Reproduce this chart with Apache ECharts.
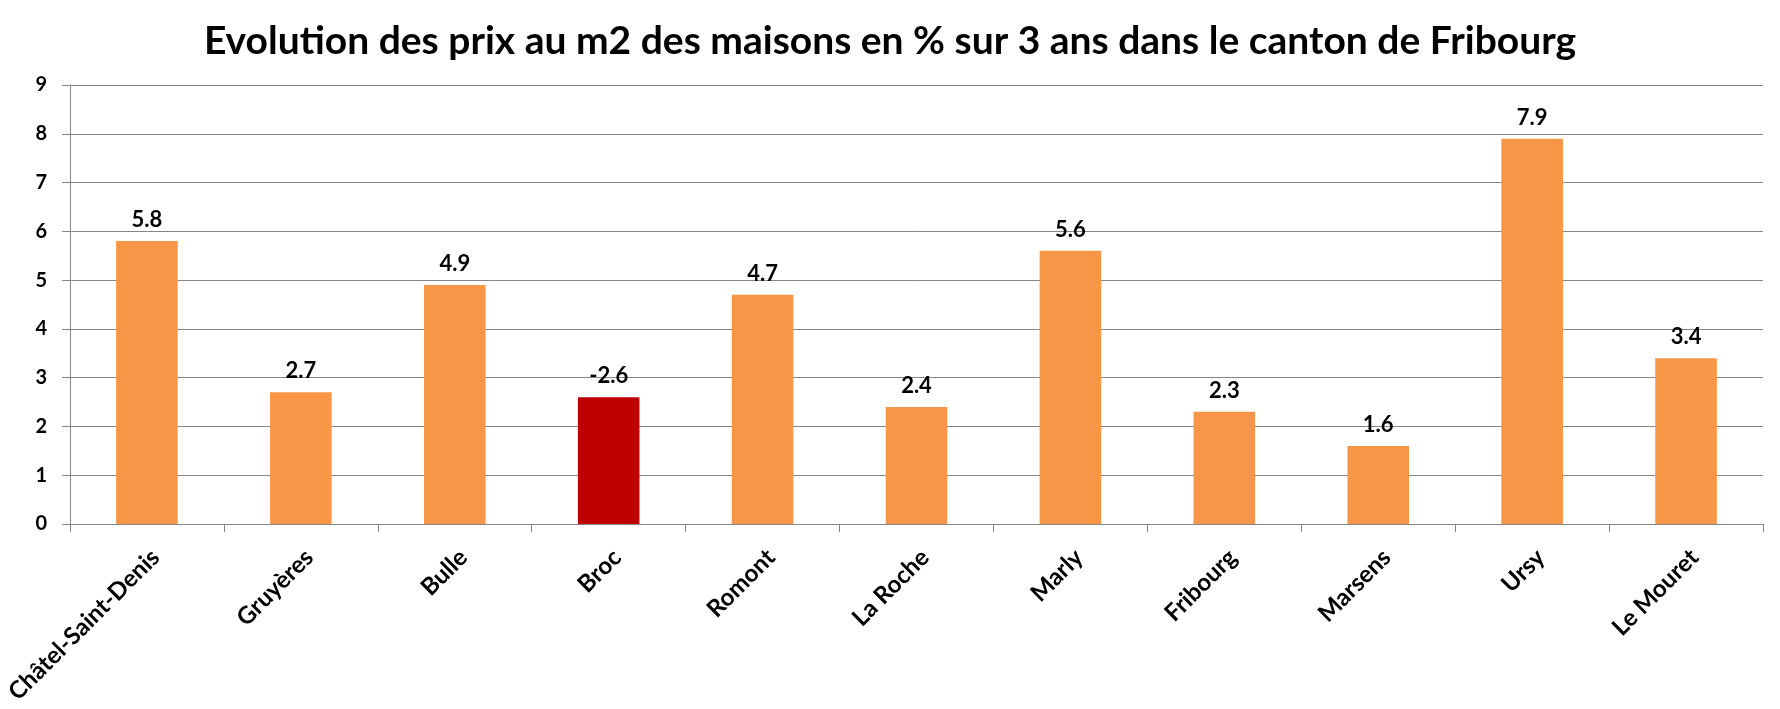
<!DOCTYPE html>
<html>
<head>
<meta charset="utf-8">
<script src="https://cdn.jsdelivr.net/npm/echarts@6/dist/echarts.min.js"></script>
<style>html,body{margin:0;padding:0;background:#fff}#c{width:1780px;height:709px}</style>
</head>
<body>
<div id="c"></div>
<script>
const titleText = "Evolution des prix au m2 des maisons en % sur 3 ans dans le canton de Fribourg";
const categories = ["Châtel-Saint-Denis","Gruyères","Bulle","Broc","Romont","La Roche","Marly","Fribourg","Marsens","Ursy","Le Mouret"];
const barHeights = [5.8, 2.7, 4.9, 2.6, 4.7, 2.4, 5.6, 2.3, 1.6, 7.9, 3.4];
const valueLabels = ["5.8","2.7","4.9","-2.6","4.7","2.4","5.6","2.3","1.6","7.9","3.4"];
const negativeFlags = [false,false,false,true,false,false,false,false,false,false,false];
const yTicks = [0,1,2,3,4,5,6,7,8,9];

const ORANGE = "#F79646", RED = "#C00000", GRAY = "#868686";
const FONT = "Lato";

const chart = echarts.init(document.getElementById('c'), null, {renderer:'canvas'});
chart.setOption({
  animation:false,
  backgroundColor:'#fff',
  title:{
    text:titleText, left:'center', top:17,
    textStyle:{fontFamily:FONT, fontWeight:'bold', fontSize:39, color:'#000'}
  },
  grid:{left:70, right:17, top:85, bottom:185, containLabel:false},
  xAxis:{
    type:'category', data:categories,
    axisLine:{lineStyle:{color:GRAY, width:1}},
    axisTick:{show:true, alignWithLabel:false, length:8, lineStyle:{color:GRAY}},
    axisLabel:{rotate:45, interval:0, margin:21, verticalAlign:'top', align:'right',
      fontFamily:FONT, fontWeight:'bold', fontSize:24, color:'#000'}
  },
  yAxis:{
    type:'value', min:yTicks[0], max:yTicks[yTicks.length-1], interval:1,
    axisLine:{show:true, lineStyle:{color:GRAY, width:1}},
    axisTick:{show:true, length:8, lineStyle:{color:GRAY}},
    splitLine:{lineStyle:{color:GRAY, width:1}},
    axisLabel:{margin:23, fontFamily:FONT, fontWeight:'bold', fontSize:20, color:'#000'}
  },
  series:[{
    type:'bar',
    data:barHeights.map((v,i)=>({value:v, itemStyle:{color: negativeFlags[i]?RED:ORANGE}})),
    barWidth:'40%',
    label:{
      show:true, position:'top', distance:10,
      formatter:p=>valueLabels[p.dataIndex],
      fontFamily:FONT, fontWeight:'bold', fontSize:22, color:'#000'
    }
  }]
});
</script>
</body>
</html>
